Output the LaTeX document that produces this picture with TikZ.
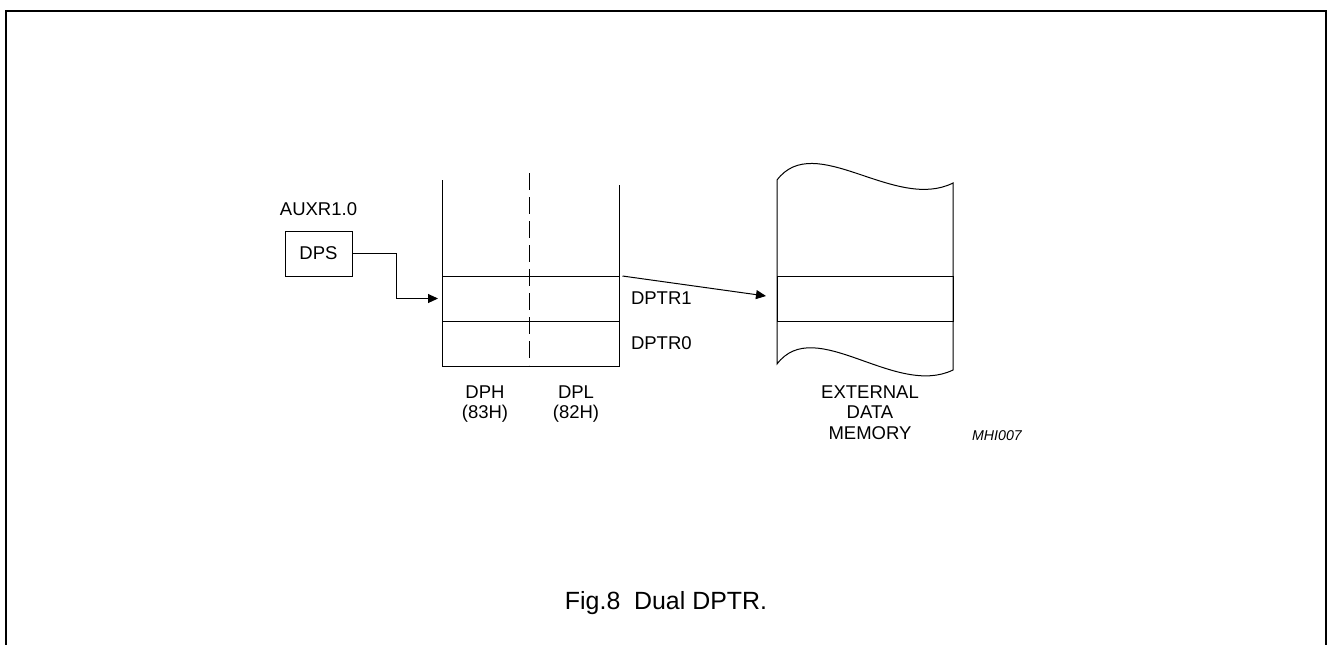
\documentclass[tikz,border=0pt]{standalone}
\usepackage{fontspec}
\setmainfont{Liberation Sans}
\usetikzlibrary{positioning, arrows.meta}

\begin{document}
\begin{tikzpicture}[x=0.5pt, y=-0.5pt, line width=0.5pt,
    lbl/.style={font=\fontsize{9.25}{10.25}\selectfont, inner sep=0pt, align=center},
    cell/.style={draw, minimum width=88.5pt, minimum height=22.5pt, inner sep=0pt, outer sep=0pt},
    memcell/.style={draw, minimum width=88pt, minimum height=22.5pt, inner sep=0pt, outer sep=0pt},
    tip/.style={-{Triangle[length=5pt, width=4.5pt]}}]
    \useasboundingbox (0,0) rectangle (1327,644);
    % frame
    \draw[line width=1pt] (5.5,660) -- (5.5,10.5) -- (1325.5,10.5) -- (1325.5,660);
    % select bit
    \node[draw, lbl, minimum width=33.5pt, minimum height=22.5pt] (dps) at (318.5,253.5) {DPS};
    \node[lbl, above=7pt of dps] (auxr) {AUXR1.0};
    % register pair
    \node[cell] (row1) at (530.5,298.5) {};
    \node[cell, below=0pt of row1] (row0) {};
    \draw (row1.north west) -- (442,180);
    \draw (row1.north east) -- (619,185);
    \draw[dash pattern=on 8.5pt off 3.5pt] (529,173) -- (529,365);
    \node[lbl, right=5.75pt of row1] (dptr1) {DPTR1};
    \node[lbl, right=5.75pt of row0] (dptr0) {DPTR0};
    \node[lbl] (dph) at (485,404) {DPH\\(83H)};
    \node[lbl] (dpl) at (576,404) {DPL\\(82H)};
    % external memory
    \node[memcell] (mem1) at (865,298.5) {};
    \draw (777,180) .. controls (815,130) and (895,212) .. (953,183) -- (953,370)
        .. controls (895,398) and (815,314) .. (777,364) -- cycle;
    \draw (mem1.south west) -- (mem1.south east);
    \node[lbl] (extmem) at (870,412.5) {EXTERNAL\\DATA\\MEMORY};
    \node[font=\fontsize{7.1}{8}\selectfont\itshape, inner sep=0pt] (mhi) at (997,436) {MHI007};
    % arrows
    \draw[tip, shorten >=2pt] (dps.east) -- ++(44,0) |- (row1.west);
    \draw[tip] ([xshift=1.75pt]row1.north east) -- ([xshift=-5.5pt, yshift=1.25pt]mem1.west);
    % caption
    \node[font=\fontsize{12.45}{14}\selectfont, inner sep=0pt] (caption) at (666,603.5) {Fig.8\ \ Dual DPTR.};
\end{tikzpicture}
\end{document}
